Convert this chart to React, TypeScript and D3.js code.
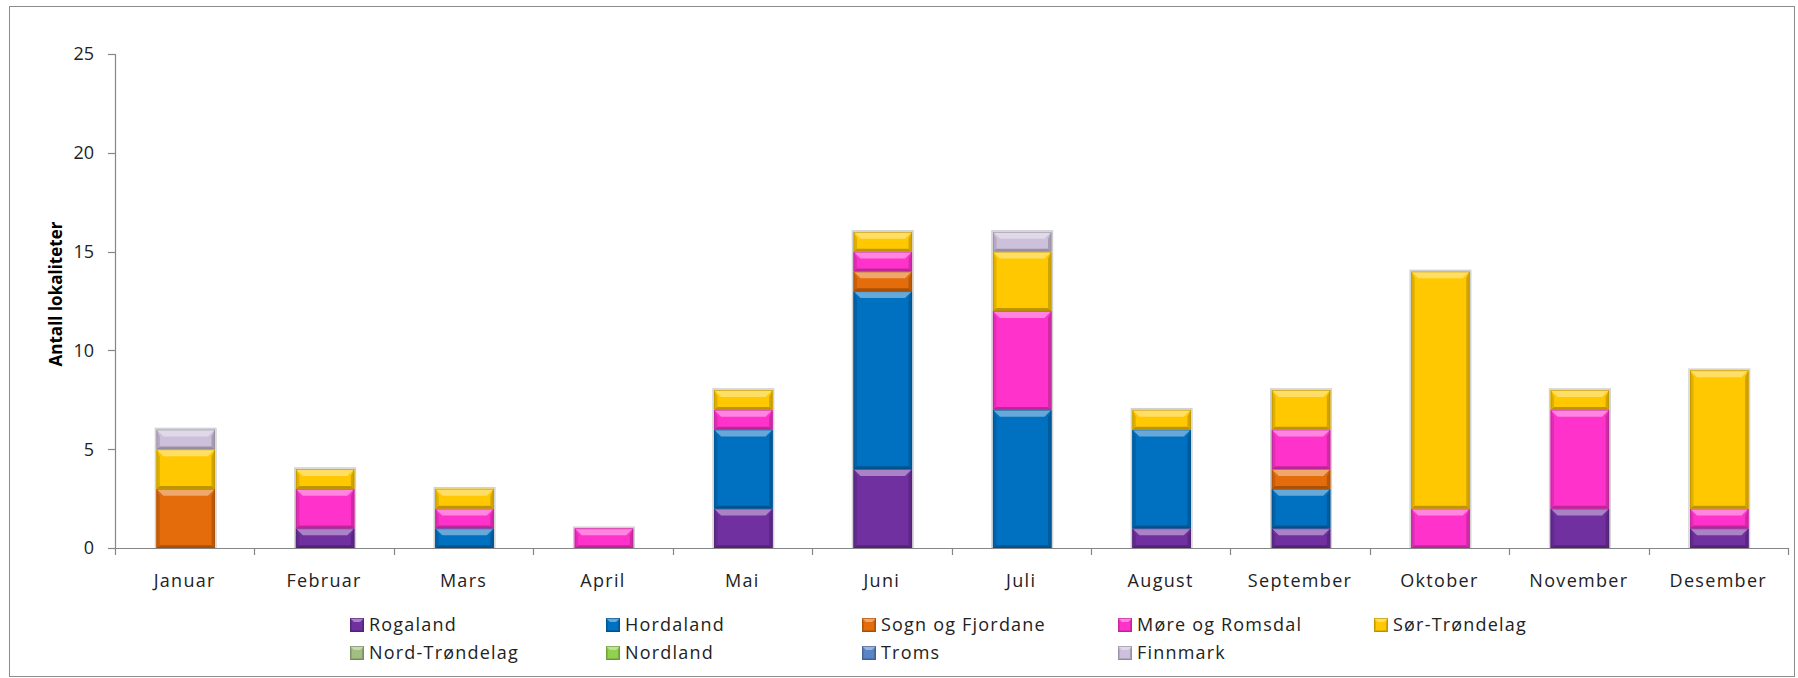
import React from "react";
import * as d3 from "d3";

const months = ["Januar","Februar","Mars","April","Mai","Juni","Juli","August","September","Oktober","November","Desember"];
const seriesNames = ["Rogaland","Hordaland","Sogn og Fjordane","Møre og Romsdal","Sør-Trøndelag","Nord-Trøndelag","Nordland","Troms","Finnmark"];
const seriesColors = ["#7030A0","#0070C0","#E46C0A","#FF33CC","#FFC800","#A3BE82","#92D050","#5B84C4","#CCC0DA"];

const rogaland =      [0,1,0,0,2,4,0,1,1,0,2,1];
const hordaland =     [0,0,1,0,4,9,7,5,2,0,0,0];
const sognFjordane =  [3,0,0,0,0,1,0,0,1,0,0,0];
const moreRomsdal =   [0,2,1,1,1,1,5,0,2,2,5,1];
const sorTrondelag =  [2,1,1,0,1,1,3,1,2,12,1,7];
const nordTrondelag = [0,0,0,0,0,0,0,0,0,0,0,0];
const nordland =      [0,0,0,0,0,0,0,0,0,0,0,0];
const troms =         [0,0,0,0,0,0,0,0,0,0,0,0];
const finnmark =      [1,0,0,0,0,0,1,0,0,0,0,0];

const yTicks = [0,5,10,15,20,25];

const W = 1798, H = 678;
const FONT = "'Open Sans', sans-serif";

function lighter(c: string, t: number) {
  return d3.interpolateRgb(c, "#ffffff")(t);
}
function darker(c: string, t: number) {
  return d3.interpolateRgb(c, "#000000")(t);
}

function Bevel({ x, y, w, h, color, b0 = 7 }: { x: number; y: number; w: number; h: number; color: string; b0?: number }) {
  const b = Math.min(b0, h / 2, w / 2);
  const top = `${x},${y} ${x + w},${y} ${x + w - b},${y + b} ${x + b},${y + b}`;
  const left = `${x},${y} ${x + b * 0.5},${y + b} ${x + b * 0.5},${y + h - b * 0.4} ${x},${y + h}`;
  const right = `${x + w},${y} ${x + w - b * 0.5},${y + b} ${x + w - b * 0.5},${y + h - b * 0.4} ${x + w},${y + h}`;
  const bottom = `${x},${y + h} ${x + w},${y + h} ${x + w - b * 0.5},${y + h - b * 0.4} ${x + b * 0.5},${y + h - b * 0.4}`;
  return (
    <g>
      <rect x={x} y={y} width={w} height={h} fill={color} />
      <polygon points={left} fill={darker(color, 0.12)} />
      <polygon points={right} fill={darker(color, 0.18)} />
      <polygon points={bottom} fill={darker(color, 0.25)} />
      <polygon points={top} fill={lighter(color, 0.4)} />
      <rect x={x + 0.5} y={y + 0.5} width={w - 1} height={h - 1} fill="none" stroke={darker(color, 0.3)} strokeWidth={1} strokeOpacity={0.6} />
    </g>
  );
}

export default function App() {
  const all = [rogaland, hordaland, sognFjordane, moreRomsdal, sorTrondelag, nordTrondelag, nordland, troms, finnmark];
  const table = months.map((m, i) => {
    const row: any = { month: m };
    seriesNames.forEach((s, k) => (row[s] = all[k][i]));
    return row;
  });
  const stacked = d3.stack().keys(seriesNames)(table);

  const x = d3.scaleBand().domain(months).range([115, 1788]).padding(0);
  const y = d3.scaleLinear().domain([0, 25]).range([548, 54]);
  const bw = x.bandwidth() * 0.42;

  const legendCols = [350, 606, 862, 1118, 1374];
  const legendRows = [625, 653];

  return (
    <svg width={W} height={H} style={{ position: "absolute", left: 0, top: 0, background: "#fff" }} fontFamily={FONT}>
      <rect x={9.5} y={6.5} width={1785} height={670} fill="#fff" stroke="#8c8c8c" strokeWidth={1} />
      {/* bars */}
      {months.map((m, i) => {
        const bx = (x(m) as number) + (x.bandwidth() - bw) / 2 + 1;
        const segs = stacked.map((s, k) => ({ k, y0: s[i][0], y1: s[i][1] })).filter((d) => d.y1 > d.y0);
        if (!segs.length) return null;
        const topV = segs[segs.length - 1].y1;
        return (
          <g key={m}>
            <rect x={bx - 1} y={y(topV) - 1} width={bw + 2} height={y(0) - y(topV) + 1} fill="none" stroke="#000" strokeOpacity={0.18} strokeWidth={1.5} />
            {segs.map((d) => (
              <Bevel key={d.k} x={bx} y={y(d.y1)} w={bw} h={y(d.y0) - y(d.y1)} color={seriesColors[d.k]} />
            ))}
          </g>
        );
      })}
      {/* y axis */}
      <line x1={115.5} x2={115.5} y1={54} y2={548} stroke="#868686" strokeWidth={1.2} />
      {yTicks.map((t) => (
        <g key={t}>
          <line x1={108} x2={115.5} y1={Math.round(y(t)) + 0.5} y2={Math.round(y(t)) + 0.5} stroke="#868686" strokeWidth={1.2} />
          <text x={94} y={y(t)} dy="0.36em" textAnchor="end" fontSize={18} fill="#222">{t}</text>
        </g>
      ))}
      {/* x axis */}
      <line x1={115} x2={1789} y1={548.5} y2={548.5} stroke="#868686" strokeWidth={1.2} />
      {months.concat([""]).map((m, i) => {
        const xx = i < months.length ? (x(m) as number) : 1788;
        return <line key={i} x1={Math.round(xx) + 0.5} x2={Math.round(xx) + 0.5} y1={548} y2={555} stroke="#868686" strokeWidth={1.2} />;
      })}
      {months.map((m) => (
        <text key={m} x={(x(m) as number) + x.bandwidth() / 2} y={587} textAnchor="middle" fontSize={18} letterSpacing={1.3} fill="#222">{m}</text>
      ))}
      {/* y title */}
      <text transform={`translate(62,294) rotate(-90)`} textAnchor="middle" fontSize={17} fontWeight="bold" fill="#000">Antall lokaliteter</text>
      {/* legend */}
      {seriesNames.map((s, k) => {
        const cx = legendCols[k % 5];
        const cy = legendRows[Math.floor(k / 5)];
        return (
          <g key={s}>
            <Bevel x={cx} y={cy - 7} w={14} h={14} color={seriesColors[k]} b0={4} />
            <text x={cx + 19} y={cy} dy="0.36em" fontSize={18} letterSpacing={1.2} fill="#222">{s}</text>
          </g>
        );
      })}
    </svg>
  );
}
